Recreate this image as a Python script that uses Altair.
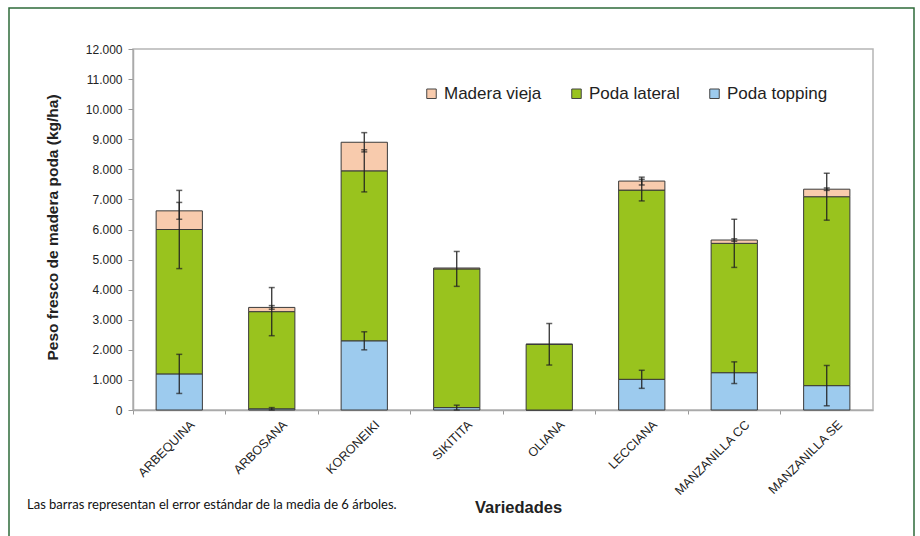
import altair as alt
import pandas as pd

varieties = ["ARBEQUINA", "ARBOSANA", "KORONEIKI", "SIKITITA", "OLIANA",
             "LECCIANA", "MANZANILLA CC", "MANZANILLA SE"]
series = ["Madera vieja", "Poda lateral", "Poda topping"]
colors = ["#F8CBAD", "#99C31E", "#9DCBEE"]

topping = [1200, 40, 2300, 80, 0, 1020, 1240, 810]
topping_se = [650, 40, 300, 80, 0, 300, 360, 670]
lateral = [4800, 3230, 5650, 4610, 2185, 6290, 4300, 6280]
lateral_se = [1300, 800, 700, 580, 690, 360, 800, 780]
madera = [620, 140, 950, 30, 0, 300, 110, 250]
madera_se = [280, 60, 320, 0, 0, 130, 40, 40]
y_ticks = [0, 1000, 2000, 3000, 4000, 5000, 6000, 7000, 8000, 9000, 10000, 11000, 12000]

rows = []
err_rows = []
for i, v in enumerate(varieties):
    base = 0
    for order, (name, vals, ses) in enumerate([
        ("Poda topping", topping, topping_se),
        ("Poda lateral", lateral, lateral_se),
        ("Madera vieja", madera, madera_se),
    ]):
        val = vals[i]
        rows.append({"variedad": v, "serie": name, "valor": val, "orden": order})
        top = base + val
        if ses[i] > 0:
            err_rows.append({"variedad": v, "serie": name, "lo": top - ses[i], "hi": top + ses[i]})
        base = top

df = pd.DataFrame(rows)
err = pd.DataFrame(err_rows)

FONT = "Liberation Sans"
x_axis = alt.Axis(title="Variedades", labelAngle=-45, labelAlign="right",
                  labelBaseline="top", labelFontSize=12.5, labelFont=FONT,
                  labelColor="#222", labelPadding=4, labelOffset=9,
                  bandPosition=0, tickSize=4, tickColor="#999",
                  domainColor="#aaa", domainWidth=1.5, labelOverlap=False,
                  titleFont=FONT, titleFontSize=16.5, titleFontWeight="bold",
                  titleColor="#222", titleX=385, titleY=97,
                  titleBaseline="middle")
y_axis = alt.Axis(title="Peso fresco de madera poda (kg/ha)", values=y_ticks,
                  labelExpr="replace(format(datum.value, ','), ',', '.')",
                  labelFont=FONT, labelFontSize=12, labelColor="#222",
                  labelOverlap=False,
                  tickSize=5, tickColor="#999", domainColor="#aaa", domainWidth=1.5,
                  labelPadding=6, grid=False,
                  titleFont=FONT, titleFontSize=15.5, titleFontWeight="bold",
                  titleColor="#222", titleAngle=-90, titleX=-81, titleY=178,
                  titleAlign="center", titleBaseline="middle")
x_scale = alt.Scale(paddingInner=0, paddingOuter=0)
y_scale = alt.Scale(domain=[0, 12000], nice=False)
ex = alt.X("variedad:N", sort=varieties, scale=x_scale, axis=x_axis)

bars = alt.Chart(df).mark_bar(width=alt.RelativeBandSize(0.5), stroke="#3a3a3a",
                              strokeWidth=1).encode(
    x=ex,
    y=alt.Y("sum(valor):Q", scale=y_scale, stack="zero", axis=y_axis),
    color=alt.Color("serie:N", scale=alt.Scale(domain=series, range=colors),
                    legend=alt.Legend(title=None, orient="none", legendX=290, legendY=36,
                                      direction="horizontal", symbolType="square",
                                      symbolSize=90, symbolStrokeColor="#444",
                                      symbolStrokeWidth=1, labelFont=FONT, labelFontSize=17,
                                      labelColor="#222", columnPadding=26, labelOffset=4)),
    order=alt.Order("orden:Q", sort="ascending"),
)

rules = alt.Chart(err).mark_rule(color="#222", strokeWidth=1.2).encode(
    x=ex, y=alt.Y("lo:Q", scale=y_scale, axis=y_axis), y2="hi:Q")
caps_lo = alt.Chart(err).mark_tick(color="#222", thickness=1.5, size=6).encode(
    x=ex, y=alt.Y("lo:Q", scale=y_scale, axis=y_axis))
caps_hi = alt.Chart(err).mark_tick(color="#222", thickness=1.5, size=6).encode(
    x=ex, y=alt.Y("hi:Q", scale=y_scale, axis=y_axis))

frame = alt.Chart(pd.DataFrame({"k": [0]})).mark_rect(
    fill=None, stroke="#2E6B3A", strokeWidth=1.5).encode(
    x=alt.value(-124), x2=alt.value(781), y=alt.value(-41), y2=alt.value(500))

note = alt.Chart(pd.DataFrame({"t": ["Las barras representan el error estándar de la media de 6 árboles."]})).mark_text(
    align="left", baseline="middle", font="Lato", fontSize=13, color="#111").encode(
    text="t:N", x=alt.value(-106), y=alt.value(456))

chart = alt.layer(frame, bars, rules, caps_lo, caps_hi, note).properties(
    width=740, height=361,
    autosize=alt.AutoSizeParams(type="none"),
    padding={"left": 133, "top": 49, "right": 47, "bottom": 126},
    background="white",
).configure_view(stroke="#b5b5b5", strokeWidth=1.5)

chart.save("out.html", embed_options={"renderer": "svg", "actions": False})
